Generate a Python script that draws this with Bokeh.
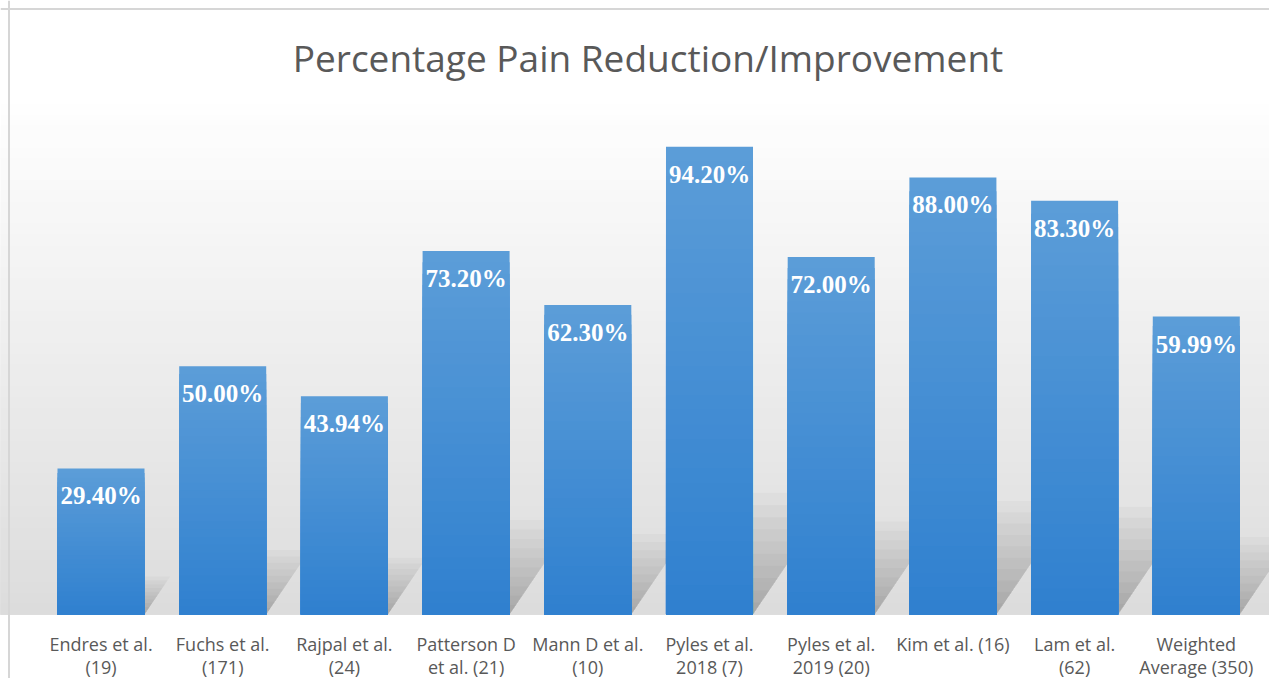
from bokeh.plotting import figure
from bokeh.models import ColumnDataSource, LabelSet, Label, BoxAnnotation, Range1d, Span
from bokeh.core.properties import value
from bokeh.embed import file_html
from bokeh.resources import INLINE

categories = ["Endres et al. (19)", "Fuchs et al. (171)", "Rajpal et al. (24)",
              "Patterson D et al. (21)", "Mann D et al. (10)", "Pyles et al. 2018 (7)",
              "Pyles et al. 2019 (20)", "Kim et al. (16)", "Lam et al. (62)",
              "Weighted Average (350)"]
label_line1 = ["Endres et al.", "Fuchs et al.", "Rajpal et al.", "Patterson D",
               "Mann D et al.", "Pyles et al.", "Pyles et al.", "Kim et al. (16)",
               "Lam et al.", "Weighted"]
label_line2 = ["(19)", "(171)", "(24)", "et al. (21)", "(10)", "2018 (7)",
               "2019 (20)", "", "(62)", "Average (350)"]
values = [29.40, 50.00, 43.94, 73.20, 62.30, 94.20, 72.00, 88.00, 83.30, 59.99]
value_labels = ["29.40%", "50.00%", "43.94%", "73.20%", "62.30%", "94.20%",
                "72.00%", "88.00%", "83.30%", "59.99%"]
title_text = "Percentage Pain Reduction/Improvement"

W, H = 1269, 678
PX_X = 121.7   # px per category
PX_Y = 4.966   # px per percent
X0 = -100.5 / PX_X
Y_TOP = 614 / PX_Y
BAR_W = 0.715
xs = list(range(len(values)))

p = figure(width=W, height=H, output_backend="svg", toolbar_location=None,
           x_range=Range1d(X0, X0 + W / PX_X),
           y_range=Range1d(Y_TOP - H / PX_Y, Y_TOP),
           min_border=0, min_border_left=0, min_border_right=0,
           min_border_top=0, min_border_bottom=0)
p.axis.visible = False
p.grid.visible = False
p.outline_line_color = None
p.background_fill_color = "white"
p.border_fill_color = "white"


def mix(c1, c2, t):
    a = [int(c1[i:i + 2], 16) for i in (1, 3, 5)]
    b = [int(c2[i:i + 2], 16) for i in (1, 3, 5)]
    return "#%02x%02x%02x" % tuple(round(a[j] + (b[j] - a[j]) * t) for j in range(3))


# background gradient (white at top -> light gray at baseline), nested boxes
NB = 48
g_top = 105.0
for k in reversed(range(NB)):
    b1 = g_top * (k + 1) / NB
    col = mix("#dcdcdc", "#ffffff", (k + 0.5) / NB)
    p.add_layout(BoxAnnotation(bottom=0, top=b1, fill_color=col, fill_alpha=1.0,
                               line_color=None, level="underlay"))

# chart border (top and left edges of the framed chart)
p.add_layout(Span(location=X0 + 8.5 / PX_X, dimension="height",
                  line_color="#d6d6d6", line_width=2))
p.add_layout(Span(location=Y_TOP - 8.5 / PX_Y, dimension="width",
                  line_color="#d6d6d6", line_width=2))

# perspective shadows behind the bars (derived from bar heights), fading upward
SH_H = 0.26           # shadow height as fraction of bar height
SH_DX = 0.0072        # rightward skew (category units per percent)
L = 10
for j in range(L):
    f = (j + 1) / L
    sx, sy = [], []
    for x, v in zip(xs, values):
        dy = v * SH_H * f
        dx = v * SH_DX * f
        sx.append([x - BAR_W / 2, x + BAR_W / 2, x + BAR_W / 2 + dx, x - BAR_W / 2 + dx])
        sy.append([0, 0, dy, dy])
    p.patches(sx, sy, fill_color="#000000", fill_alpha=0.022, line_color=None)

# bars with vertical gradient (nested bars: tallest first)
N = 32
for k in reversed(range(N)):
    t = (k + 0.5) / N
    col = mix("#2f80cf", "#5c9dd8", t)
    src = ColumnDataSource(dict(x=xs, top=[v * (k + 1) / N for v in values]))
    p.vbar(x="x", bottom=0, top="top", width=BAR_W, source=src,
           fill_color=col, line_color=None)

lab_src = ColumnDataSource(dict(x=xs, y=values, t=value_labels))
p.add_layout(LabelSet(x="x", y="y", text="t", source=lab_src, text_align="center",
                      text_baseline="top", y_offset=-14,
                      text_font=value("Liberation Serif"), text_font_style="bold",
                      text_font_size="25px", text_color="white"))

cat_src = ColumnDataSource(dict(x=xs, y=[0] * len(xs), l1=label_line1, l2=label_line2))
p.add_layout(LabelSet(x="x", y="y", text="l1", source=cat_src, text_align="center",
                      text_baseline="alphabetic", y_offset=-36,
                      text_font=value("Open Sans"), text_font_size="18px",
                      text_color="#595959"))
p.add_layout(LabelSet(x="x", y="y", text="l2", source=cat_src, text_align="center",
                      text_baseline="alphabetic", y_offset=-59,
                      text_font=value("Open Sans"), text_font_size="18px",
                      text_color="#595959"))

p.add_layout(Label(x=647.5, y=H - 57, x_units="screen", y_units="screen",
                   text=title_text, text_align="center", text_baseline="alphabetic",
                   text_font="Open Sans", text_font_size="37px", text_color="#595959"))

open("out.html", "w").write(file_html(p, INLINE))
